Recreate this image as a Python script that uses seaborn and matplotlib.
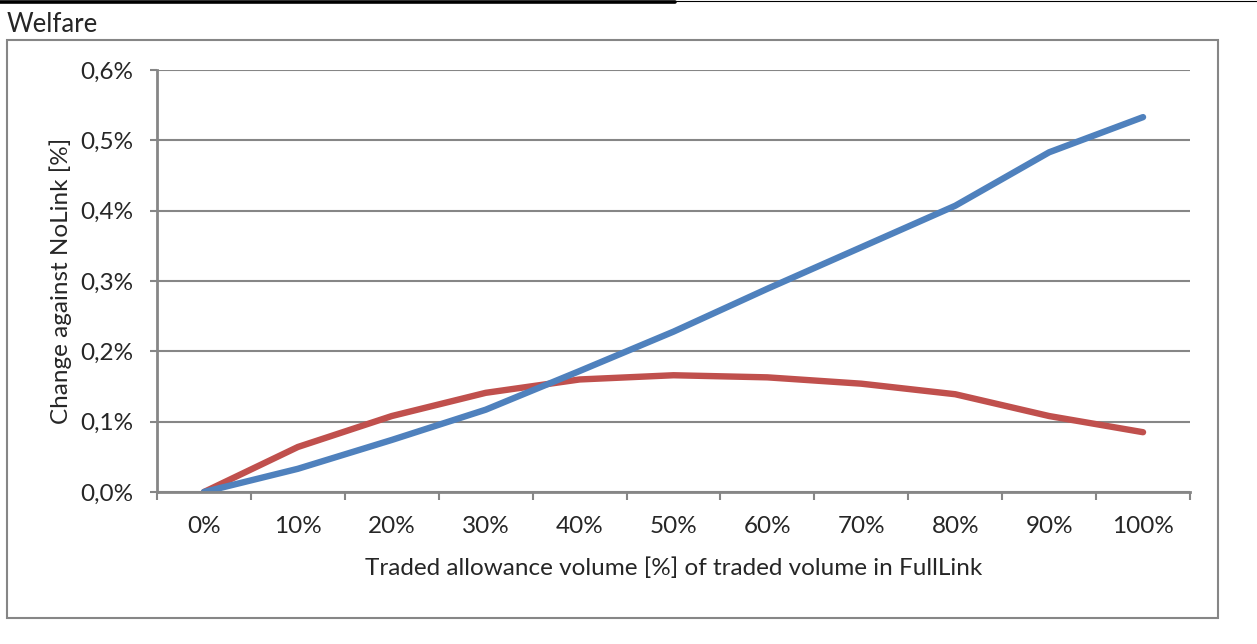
import matplotlib
matplotlib.use("Agg")
import matplotlib.pyplot as plt
from matplotlib.lines import Line2D
from matplotlib.patches import Rectangle
from matplotlib.ticker import FuncFormatter, FixedLocator
import numpy as np
import pandas as pd
import seaborn as sns

# Share of traded allowance volume relative to FullLink
categories = ["0%", "10%", "20%", "30%", "40%", "50%", "60%", "70%", "80%", "90%", "100%"]
# Welfare change against NoLink [%]
blue_values = [0.0, 0.033, 0.074, 0.117, 0.172, 0.228, 0.289, 0.348, 0.407, 0.483, 0.533]
red_values = [0.0, 0.064, 0.108, 0.141, 0.160, 0.166, 0.163, 0.154, 0.139, 0.108, 0.085]
y_ticks = [0.0, 0.1, 0.2, 0.3, 0.4, 0.5, 0.6]

sns.set_theme(style="white")
plt.rcParams["font.family"] = ["Lato", "DejaVu Sans"]

GRAY = "#868686"
BLUE = "#4F81BD"
RED = "#C0504D"
FS = 17.5

df = pd.DataFrame({
    "pos": list(range(len(categories))) * 2,
    "value": blue_values + red_values,
    "series": ["blue"] * len(categories) + ["red"] * len(categories),
})

fig = plt.figure(figsize=(12.57, 6.44), dpi=100)
ax = fig.add_axes([157 / 1257, 1 - 492 / 644, (1190 - 157) / 1257, (492 - 70) / 644])

sns.lineplot(data=df, x="pos", y="value", hue="series",
             palette={"blue": BLUE, "red": RED}, hue_order=["red", "blue"],
             linewidth=4.6, legend=False, ax=ax, solid_capstyle="round")

ax.set_xlim(-0.5, len(categories) - 0.5)
ax.set_ylim(0, 0.6)

# y axis
ax.yaxis.set_major_locator(FixedLocator(y_ticks))
ax.yaxis.set_major_formatter(FuncFormatter(lambda v, _: f"{v:.1f}%".replace(".", ",")))
ax.tick_params(axis="y", which="major", direction="out", length=5, width=1.5,
               color=GRAY, labelsize=FS, pad=12, left=True)
ax.grid(axis="y", color=GRAY, linewidth=1.5)
ax.grid(axis="x", visible=False)
ax.set_axisbelow(True)

# x axis: labels at category centres, ticks on the boundaries
ax.set_xticks(range(len(categories)))
ax.set_xticklabels(categories)
ax.set_xticks(np.arange(-0.5, len(categories), 1.0), minor=True)
ax.tick_params(axis="x", which="major", length=0, labelsize=FS, pad=17)
ax.tick_params(axis="x", which="minor", direction="out", length=6, width=1.5,
               color=GRAY, bottom=True)

for side in ("top", "right"):
    ax.spines[side].set_visible(False)
for side in ("left", "bottom"):
    ax.spines[side].set_color(GRAY)
    ax.spines[side].set_linewidth(2)

ax.set_xlabel("Traded allowance volume [%] of traded volume in FullLink", fontsize=FS, labelpad=15)
ax.set_ylabel("Change against NoLink [%]", fontsize=FS, labelpad=6)

# Chart frame, title and header rule
fig.add_artist(Rectangle((7 / 1257, 1 - 618 / 644), (1218 - 7) / 1257, (618 - 40) / 644,
                         transform=fig.transFigure, fill=False, edgecolor=GRAY, linewidth=1.5))
fig.text(7 / 1257, 1 - 24 / 644, "Welfare", fontsize=18.5, va="center", ha="left")
fig.add_artist(Line2D([0, 675 / 1257], [1 - 1.5 / 644] * 2, transform=fig.transFigure,
                      color="black", linewidth=2.6))
fig.add_artist(Line2D([675 / 1257, 1], [1 - 0.5 / 644] * 2, transform=fig.transFigure,
                      color="black", linewidth=0.8))

fig.savefig("out.png", dpi=100)
